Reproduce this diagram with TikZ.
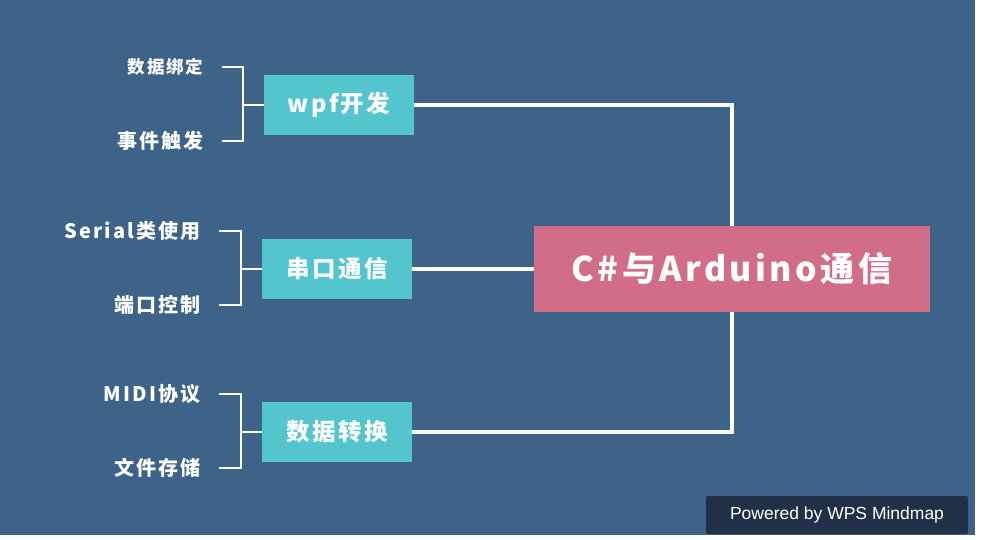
\documentclass[tikz,border=0pt]{standalone}
\usepackage{fontspec}
\usetikzlibrary{positioning}
\newfontfamily\cjk{Noto Sans CJK SC}[LetterSpace=10]
\newfontfamily\wpsfont{Liberation Sans}
\definecolor{bgblue}{HTML}{3E6388}
\definecolor{branchteal}{HTML}{54C5CC}
\definecolor{rootpink}{HTML}{D16D89}
\definecolor{badgenavy}{HTML}{1F3047}

\begin{document}
\begin{tikzpicture}[x=1pt,y=-1pt,
  hub/.style={draw=white,line width=3.5pt},
  twig/.style={draw=white,line width=2.5pt},
  root/.style={fill=rootpink,text=white,minimum width=396pt,minimum height=86pt,inner sep=0pt,
    font=\cjk\bfseries\fontsize{34}{34}\selectfont},
  branch/.style={fill=branchteal,text=white,minimum width=150pt,minimum height=60pt,inner sep=0pt,
    font=\cjk\bfseries\fontsize{23.5}{23.5}\selectfont},
  leaf/.style={text=white,inner sep=0pt,outer xsep=19pt,anchor=east,
    font=\cjk\bfseries\fontsize{20}{20}\selectfont},
  badge/.style={fill=badgenavy,text=white,rounded corners=2pt,minimum width=262pt,minimum height=38pt,
    inner sep=0pt,font=\wpsfont\fontsize{17.5}{17.5}\selectfont}]

  \useasboundingbox (0,0) rectangle (982,539);
  \fill[white] (0,0) rectangle (982,539);
  \fill[bgblue] (0,0) rectangle (975,535);

  \node [root] (root) at (732,269) {C\#与Arduino通信};

  \node [branch] (wpf)    at (339,105) {wpf开发};
  \node [branch] (serial) at (337,269) {串口通信};
  \node [branch] (conv)   at (337,432) {数据转换};

  \node [leaf,font=\cjk\bfseries\fontsize{17.5}{17.5}\selectfont] (bind) at (222,67) {数据绑定};
  \node [leaf] (event) at (222,141) {事件触发};
  \node [leaf] (cls)   at (219,231) {Serial类使用};
  \node [leaf] (port)  at (219,305) {端口控制};
  \node [leaf] (midi)  at (219,394) {MIDI协议};
  \node [leaf] (file)  at (219,468) {文件存储};

  \coordinate [left=21pt of wpf.west]    (wpfj);
  \coordinate [left=21pt of serial.west] (serialj);
  \coordinate [left=21pt of conv.west]   (convj);

  \path [hub]
    (wpf.east)    -| (root.north)
    (serial.east) -- (root.west)
    (conv.east)   -| (root.south);

  \draw [twig] (bind.east) -| (wpfj) |- (event.east);
  \draw [twig] (wpfj) -- (wpf.west);
  \draw [twig] (cls.east) -| (serialj) |- (port.east);
  \draw [twig] (serialj) -- (serial.west);
  \draw [twig] (midi.east) -| (convj) |- (file.east);
  \draw [twig] (convj) -- (conv.west);

  \node [badge] (wps) at (837,515) {Powered by WPS Mindmap};

\end{tikzpicture}
\end{document}
